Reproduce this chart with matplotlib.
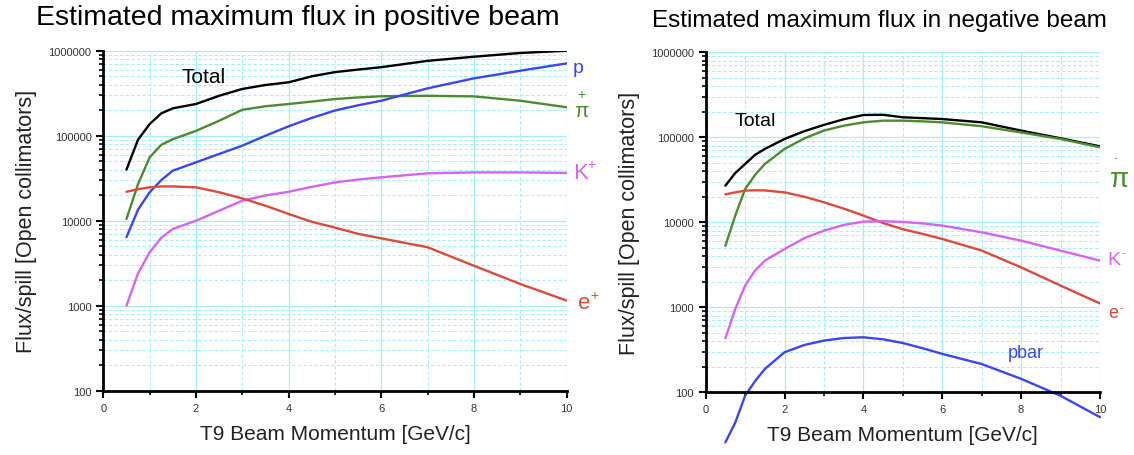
import matplotlib
matplotlib.use("Agg")
import matplotlib.pyplot as plt
from matplotlib.ticker import FixedLocator, FuncFormatter, NullFormatter

plt.rcParams["font.family"] = ["Liberation Sans", "DejaVu Sans"]

# momentum grid (GeV/c)
momentum = [0.5, 0.75, 1.0, 1.25, 1.5, 2, 2.5, 3, 3.5, 4, 4.5, 5, 5.5, 6, 7, 8, 9, 10]

# positive beam
pos_total = [40000, 90000, 137000, 183000, 210000, 236000, 295000, 355000, 395000,
             425000, 500000, 560000, 600000, 640000, 760000, 850000, 940000, 1000000]
pos_pi = [10500, 27000, 55600, 78000, 91000, 114000, 150000, 202000, 222000,
          236000, 252000, 270000, 282000, 291000, 295000, 290000, 258000, 216000]
pos_p = [6400, 13500, 21600, 30000, 38800, 48600, 61000, 76300, 100000,
         129000, 162000, 198000, 228000, 258000, 361000, 473000, 582000, 709000]
pos_k = [1000, 2400, 4250, 6300, 8000, 10000, 13100, 17200, 19800,
         21900, 25000, 28200, 30500, 32400, 36100, 37000, 37000, 36500]
pos_e = [21900, 23500, 24700, 25300, 25300, 24700, 21600, 18300, 15000,
         12000, 9700, 8300, 7000, 6200, 4870, 2950, 1800, 1150]

# negative beam
neg_total = [27000, 38000, 48500, 62000, 73000, 95600, 118000, 140000, 163000,
             183000, 184000, 172000, 168000, 164000, 150000, 120000, 97400, 78300]
neg_pi = [5300, 12000, 24600, 36000, 48500, 73000, 97000, 120000, 137000,
          150000, 157000, 157000, 154000, 150000, 135000, 114000, 95600, 76300]
neg_e = [21300, 22500, 23600, 23800, 23700, 22500, 20000, 17200, 14500,
         12000, 9800, 8300, 7300, 6370, 4650, 2950, 1800, 1110]
neg_k = [432, 955, 1800, 2700, 3540, 4850, 6500, 7980, 9300,
         10200, 10300, 10100, 9700, 9140, 7630, 6080, 4650, 3540]
neg_pbar = [25.8, 44, 91, 135, 188, 296, 360, 406, 435,
            444, 420, 380, 330, 283, 215, 144, 91, 51]

BLACK = "#000000"
GREEN = "#4c8c2c"
BLUE = "#3a46f0"
MAGENTA = "#d862f2"
RED = "#dc4a3a"
GRID = "#a4f0f4"


def style_axes(ax):
    ax.set_yscale("log")
    ax.set_xlim(0, 10)
    ax.set_ylim(100, 1000000)
    ax.set_xticks([0, 2, 4, 6, 8, 10])
    ax.xaxis.set_minor_locator(FixedLocator([1, 3, 5, 7, 9]))
    ax.yaxis.set_major_formatter(FuncFormatter(lambda v, p: f"{int(round(v))}"))
    ax.yaxis.set_minor_formatter(NullFormatter())
    ax.grid(which="major", color=GRID, lw=0.9, ls="-")
    ax.grid(which="minor", color=GRID, lw=0.8, ls=(0, (3, 2)))
    ax.set_axisbelow(True)
    for s in ["top", "right"]:
        ax.spines[s].set_visible(False)
    for s in ["left", "bottom"]:
        ax.spines[s].set_linewidth(2)
    ax.tick_params(which="major", length=5, width=1.5, labelsize=8, labelcolor="#333333")
    ax.tick_params(which="minor", length=3, width=1.2)
    ax.set_xlabel("T9 Beam Momentum [GeV/c]", fontsize=15, color="#222222", labelpad=8)
    ax.set_ylabel("Flux/spill [Open collimators]", fontsize=15.5, color="#222222", labelpad=8)


fig = plt.figure(figsize=(11.34, 4.56), dpi=100)
ax1 = fig.add_axes([0.0911, 0.141, 0.4086, 0.7456])
ax2 = fig.add_axes([0.6223, 0.1375, 0.3477, 0.7456])

line_kw = dict(lw=1.7, solid_joinstyle="round", solid_capstyle="round")
ax1.plot(momentum, pos_total, color=BLACK, **line_kw)
ax1.plot(momentum, pos_pi, color=GREEN, **line_kw)
ax1.plot(momentum, pos_p, color=BLUE, **line_kw)
ax1.plot(momentum, pos_k, color=MAGENTA, **line_kw)
ax1.plot(momentum, pos_e, color=RED, **line_kw)
style_axes(ax1)

ax1.text(1.69, 428000, "Total", fontsize=15, va="baseline")
ax1.text(10.12, 642000, "p", fontsize=14, color=BLUE, va="center", clip_on=False)
ax1.text(10.32, 200000, "π", fontsize=15, color=GREEN, ha="center", va="center", clip_on=False)
ax1.text(10.32, 310000, "+", fontsize=10, color=GREEN, ha="center", va="center", clip_on=False)
ax1.text(10.14, 36900, "K", fontsize=16, color=MAGENTA, va="center", clip_on=False)
ax1.text(10.45, 46400, "+", fontsize=10, color=MAGENTA, va="center", clip_on=False)
ax1.text(10.25, 1090, "e", fontsize=16, color=RED, va="center", clip_on=False)
ax1.text(10.52, 1330, "+", fontsize=10, color=RED, va="center", clip_on=False)
fig.text(0.032, 0.96, "Estimated maximum flux in positive beam", fontsize=20.5, va="center")

ax2.plot(momentum, neg_total, color=BLACK, **line_kw)
ax2.plot(momentum, neg_pi, color=GREEN, **line_kw)
ax2.plot(momentum, neg_e, color=RED, **line_kw)
ax2.plot(momentum, neg_k, color=MAGENTA, **line_kw)
ax2.plot(momentum, neg_pbar, color=BLUE, clip_on=False, **line_kw)
style_axes(ax2)

ax2.text(0.74, 140000, "Total", fontsize=14, va="baseline")
ax2.text(10.25, 32300, "π", fontsize=20, color=GREEN, va="center", clip_on=False)
ax2.text(10.35, 58600, "-", fontsize=8, color=GREEN, va="center", clip_on=False)
ax2.text(10.2, 3650, "K", fontsize=14, color=MAGENTA, va="center", clip_on=False)
ax2.text(10.55, 4400, "-", fontsize=8, color=MAGENTA, va="center", clip_on=False)
ax2.text(10.2, 857, "e", fontsize=13, color=RED, va="center", clip_on=False)
ax2.text(10.5, 1010, "-", fontsize=8, color=RED, va="center", clip_on=False)
ax2.text(7.67, 290, "pbar", fontsize=13, color=BLUE, va="center")
fig.text(0.575, 0.955, "Estimated maximum flux in negative beam", fontsize=17.5, va="center")

fig.savefig("out.png", dpi=100)
